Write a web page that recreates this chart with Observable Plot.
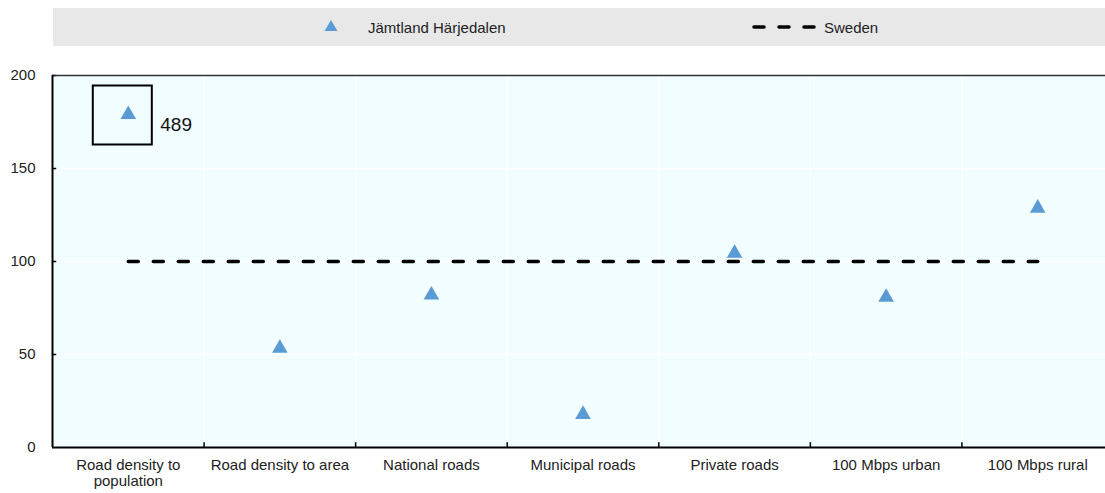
<!DOCTYPE html>
<html>
<head>
<meta charset="utf-8">
<script src="https://cdn.jsdelivr.net/npm/d3@7"></script>
<script src="https://cdn.jsdelivr.net/npm/@observablehq/plot@0.6"></script>
<style>
  body { margin: 0; overflow: hidden; font-family: "Liberation Sans", Arial, sans-serif; background: #fff; }
  #wrap { position: relative; width: 1105px; height: 493px; overflow: hidden; }
  #legend { position: absolute; left: 53px; top: 8px; width: 1052px; height: 38px; background: #e8e8e8; font-size: 15px; color: #222; }
  #legend .item { position: absolute; top: 0; height: 38px; display: flex; align-items: center; }
  #chart { position: absolute; left: 0; top: 46px; width: 1113px; }
  #chart svg { max-width: none !important; }
</style>
</head>
<body>
<div id="wrap">
  <div id="legend">
    <div class="item" style="left:268px">
      <svg width="20" height="20"><path d="M10,3 L16.5,14 L3.5,14 Z" fill="#5b9bd5"/></svg>
      <span style="margin-left:27px">Jämtland Härjedalen</span>
    </div>
    <div class="item" style="left:698px">
      <svg width="68" height="20"><line x1="3" y1="10" x2="64" y2="10" stroke="#000" stroke-width="3.5" stroke-linecap="round" stroke-dasharray="10,15"/></svg>
      <span style="margin-left:5px">Sweden</span>
    </div>
  </div>
  <div id="chart"></div>
</div>
<script>
const categories = ["Road density to population", "Road density to area", "National roads",
  "Municipal roads", "Private roads", "100 Mbps urban", "100 Mbps rural"];
const tickLabels = ["Road density to\npopulation", "Road density to area", "National roads",
  "Municipal roads", "Private roads", "100 Mbps urban", "100 Mbps rural"];
const regionValues = [179, 53.3, 82, 17.8, 104.4, 80.8, 128.7];
const swedenValues = [100, 100, 100, 100, 100, 100, 100];
const cappedLabel = ["489", "", "", "", "", "", ""];
const yTicks = [0, 50, 100, 150, 200];

const rows = categories.map((c, i) => ({
  i, cat: c, x: i + 0.5, region: regionValues[i], sweden: swedenValues[i], label: cappedLabel[i]
}));
const boundaries = d3.range(1, categories.length);
const capped = rows.filter(d => d.label !== "");

const chart = Plot.plot({
  width: 1113,
  height: 447,
  marginLeft: 52,
  marginRight: 0,
  marginTop: 29,
  marginBottom: 46,
  style: { fontFamily: "Liberation Sans, Arial, sans-serif", fontSize: "15px", color: "#222", background: "transparent", maxWidth: "none" },
  x: { domain: [0, categories.length] },
  y: { domain: [0, 200] },
  marks: [
    Plot.frame({ fill: "#f1fdff", stroke: "none" }),
    Plot.ruleY(yTicks.slice(1, -1), { stroke: "#fff", strokeWidth: 1.5 }),
    Plot.ruleX(boundaries, { stroke: "#fff", strokeWidth: 1.5 }),
    Plot.ruleY(yTicks.slice(1), { x1: 0, x2: 0.028, stroke: "#000", strokeWidth: 1.5 }),
    Plot.ruleX(boundaries, { y1: 0, y2: 2.6, stroke: "#000", strokeWidth: 1.5 }),
    Plot.ruleY([200], { stroke: "#333", strokeWidth: 1.5 }),
    Plot.ruleY([0], { stroke: "#000", strokeWidth: 2 }),
    Plot.ruleX([0], { stroke: "#000", strokeWidth: 2 }),
    Plot.axisY({ ticks: yTicks, tickSize: 0, tickPadding: 17, fontSize: 15, label: null }),
    Plot.axisX({
      ticks: rows.map(d => d.x), tickSize: 0, tickPadding: 10, fontSize: 15, label: null,
      lineHeight: 1.13, tickFormat: v => tickLabels[Math.floor(v)]
    }),
    Plot.lineY(rows, {
      x: "x", y: "sweden", stroke: "#000", strokeWidth: 3.5,
      strokeDasharray: "10,15", strokeLinecap: "round"
    }),
    Plot.dot(capped, {
      x: "x", y: "region", symbol: "square", r: 33.3, dx: -6, dy: 0.5,
      stroke: "#000", strokeWidth: 2, fill: "none"
    }),
    Plot.text(capped, {
      x: "x", y: "region", text: "label", textAnchor: "start", dx: 32, dy: 10,
      fontSize: 19, fill: "#111"
    }),
    Plot.dot(rows, { x: "x", y: "region", symbol: "triangle", r: 5.8, fill: "#5b9bd5", stroke: "none" })
  ]
});

document.getElementById("chart").append(chart);
</script>
</body>
</html>
